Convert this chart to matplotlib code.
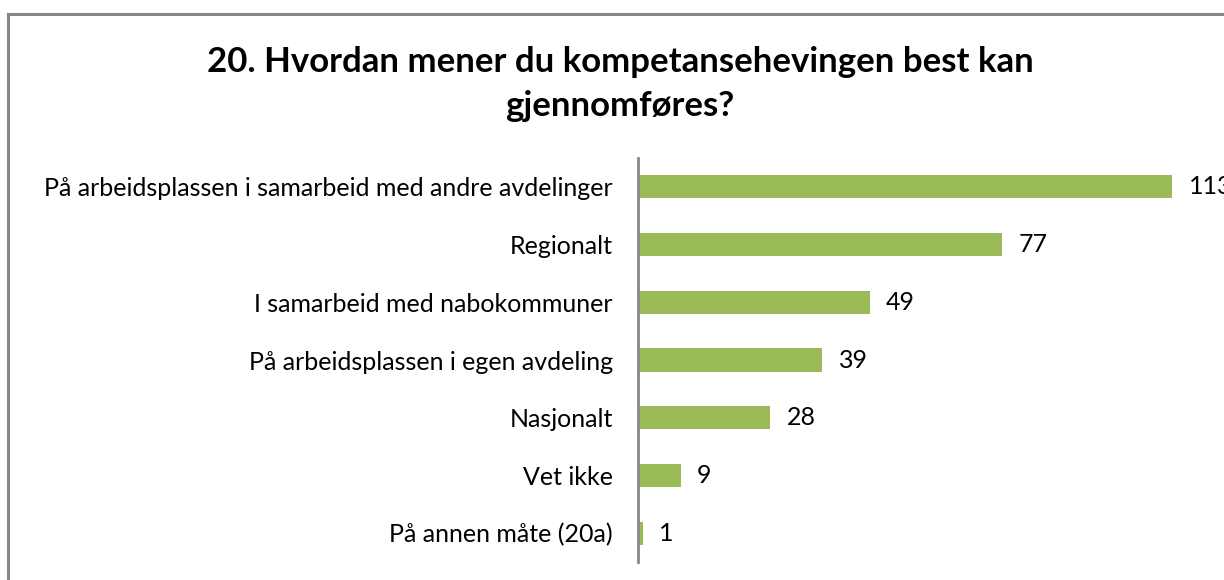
import matplotlib.pyplot as plt
from matplotlib.lines import Line2D

kategorier = [
    "På arbeidsplassen i samarbeid med andre avdelinger",
    "Regionalt",
    "I samarbeid med nabokommuner",
    "På arbeidsplassen i egen avdeling",
    "Nasjonalt",
    "Vet ikke",
    "På annen måte (20a)",
]
antall = [113, 77, 49, 39, 28, 9, 1]

W, H = 1224, 580
fig = plt.figure(figsize=(W / 100, H / 100), dpi=100)
plt.rcParams['font.family'] = ['Lato', 'DejaVu Sans']

# plotteområde i piksler: x 638..1224, y 158..562 (fra toppen)
ax = fig.add_axes([638 / W, (H - 562) / H, (W - 638) / W, (562 - 158) / H])
ypos = list(range(len(kategorier)))
ax.barh(ypos, antall, height=0.4, color='#9BBB59')
ax.set_ylim(len(kategorier) - 0.5, -0.5)
ax.set_xlim(0, 124)
ax.set_yticks(ypos)
ax.set_yticklabels(kategorier, fontsize=18)
ax.tick_params(axis='y', length=0, pad=18)
ax.set_xticks([])
for side in ['top', 'right', 'bottom']:
    ax.spines[side].set_visible(False)
ax.spines['left'].set_color('#888888')
ax.spines['left'].set_linewidth(2)

for y, v in zip(ypos, antall):
    ax.annotate(str(v), (v, y), xytext=(12, 0), textcoords='offset points',
                va='center', ha='left', fontsize=18, annotation_clip=False)

fig.text(620 / W, (H - 84) / H,
         "20. Hvordan mener du kompetansehevingen best kan\ngjennomføres?",
         ha='center', va='center', fontsize=25, fontweight='bold', linespacing=1.5)

# grå ramme (venstre og topp)
fig.add_artist(Line2D([8 / W, 8 / W], [0, (H - 14) / H], transform=fig.transFigure,
                      color='#878787', linewidth=2.2))
fig.add_artist(Line2D([8 / W, 1], [(H - 14) / H, (H - 14) / H], transform=fig.transFigure,
                      color='#878787', linewidth=2.2))

fig.savefig('out.png', dpi=100)
